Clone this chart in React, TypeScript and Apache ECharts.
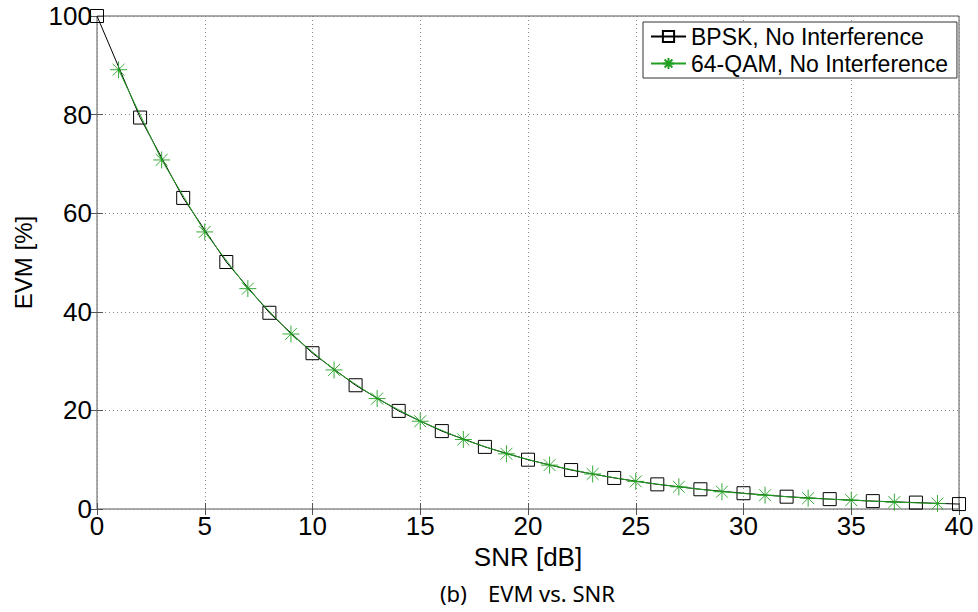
import React, { useEffect, useRef } from "react";
import * as echarts from "echarts";

const bpskSnr = [0, 2, 4, 6, 8, 10, 12, 14, 16, 18, 20, 22, 24, 26, 28, 30, 32, 34, 36, 38, 40];
const bpskEvm = [100, 79.4, 63.1, 50.1, 39.8, 31.6, 25.1, 19.9, 15.8, 12.6, 10.0, 7.9, 6.3, 5.0, 4.0, 3.2, 2.5, 2.0, 1.6, 1.3, 1.0];
const qamSnr = [1, 3, 5, 7, 9, 11, 13, 15, 17, 19, 21, 23, 25, 27, 29, 31, 33, 35, 37, 39];
const qamEvm = [89.1, 70.8, 56.2, 44.7, 35.5, 28.2, 22.4, 17.8, 14.1, 11.2, 8.9, 7.1, 5.6, 4.5, 3.5, 2.8, 2.2, 1.8, 1.4, 1.1];
const seriesNames = ["BPSK, No Interference", "64-QAM, No Interference"];
const xTitle = "SNR [dB]";
const yTitle = "EVM [%]";
const captionLabel = "(b)";
const captionText = "EVM vs. SNR";

const GREEN = "#22a022";
const AXIS = "#555555";
const STAR = "path://M10 0 L10 20 M0 10 L20 10 M3 3 L17 17 M3 17 L17 3";

export default function App() {
  const ref = useRef<HTMLDivElement>(null);
  useEffect(() => {
    if (!ref.current) return;
    const chart = echarts.init(ref.current, undefined, { renderer: "svg" });
    const font = "Liberation Sans, Arial, sans-serif";
    const capFont = "Noto Sans, Open Sans, sans-serif";
    const tickAxis = {
      axisLine: { show: false },
      axisTick: { show: true, inside: true, length: 6, lineStyle: { color: AXIS } },
    };
    chart.setOption({
      animation: false,
      backgroundColor: "#ffffff",
      grid: { left: 97, top: 16, width: 862, height: 493, show: true, borderColor: AXIS, borderWidth: 1, backgroundColor: "#ffffff" },
      legend: {
        orient: "vertical",
        left: 643,
        top: 22,
        data: seriesNames,
        backgroundColor: "#ffffff",
        borderColor: "#333333",
        borderWidth: 1,
        padding: [3, 9, 3, 7],
        itemGap: 4,
        itemWidth: 35,
        itemHeight: 14,
        textStyle: { fontFamily: font, fontSize: 23, color: "#000", lineHeight: 21 },
      },
      xAxis: [
        {
          type: "value", min: 0, max: 40, interval: 5,
          name: xTitle, nameLocation: "middle", nameGap: 30,
          nameTextStyle: { fontFamily: font, fontSize: 26, color: "#000" },
          axisLabel: { fontFamily: font, fontSize: 26, color: "#000", margin: 4 },
          splitLine: { show: true, lineStyle: { color: "#888", type: [1, 3], width: 1 } },
          ...tickAxis,
        },
        {
          type: "value", min: 0, max: 40, interval: 5, position: "top",
          axisLabel: { show: false }, splitLine: { show: false },
          ...tickAxis,
        },
      ],
      yAxis: [
        {
          type: "value", min: 0, max: 100, interval: 20,
          name: yTitle, nameLocation: "middle", nameGap: 62,
          nameTextStyle: { fontFamily: font, fontSize: 24, color: "#000" },
          axisLabel: { fontFamily: font, fontSize: 26, color: "#000", margin: 5 },
          splitLine: { show: true, lineStyle: { color: "#888", type: [1, 3], width: 1 } },
          ...tickAxis,
        },
        {
          type: "value", min: 0, max: 100, interval: 20, position: "right",
          axisLabel: { show: false }, splitLine: { show: false },
          ...tickAxis,
        },
      ],
      graphic: [
        {
          type: "text", x: 440, y: 593,
          style: { text: captionLabel, fontFamily: capFont, fontSize: 22, fill: "#000", verticalAlign: "middle" },
        },
        {
          type: "text", x: 488, y: 593,
          style: { text: captionText, fontFamily: capFont, fontSize: 22, fill: "#000", verticalAlign: "middle" },
        },
      ],
      series: [
        {
          name: seriesNames[0], type: "line",
          data: bpskSnr.map((x, i) => [x, bpskEvm[i]]),
          symbol: "rect", symbolSize: 13, showAllSymbol: true,
          lineStyle: { color: "#000", width: 1 },
          itemStyle: { color: "rgba(0,0,0,0)", borderColor: "#000", borderWidth: 1 },
          z: 2,
        },
        {
          name: seriesNames[1], type: "line",
          data: qamSnr.map((x, i) => [x, qamEvm[i]]),
          symbol: STAR, symbolSize: 17, showAllSymbol: true,
          lineStyle: { color: GREEN, width: 1 },
          itemStyle: { color: "rgba(0,0,0,0)", borderColor: GREEN, borderWidth: 0.9 },
          z: 3,
        },
      ],
    });
    return () => chart.dispose();
  }, []);
  return <div ref={ref} style={{ position: "absolute", left: 0, top: 0, width: 978, height: 612 }} />;
}
